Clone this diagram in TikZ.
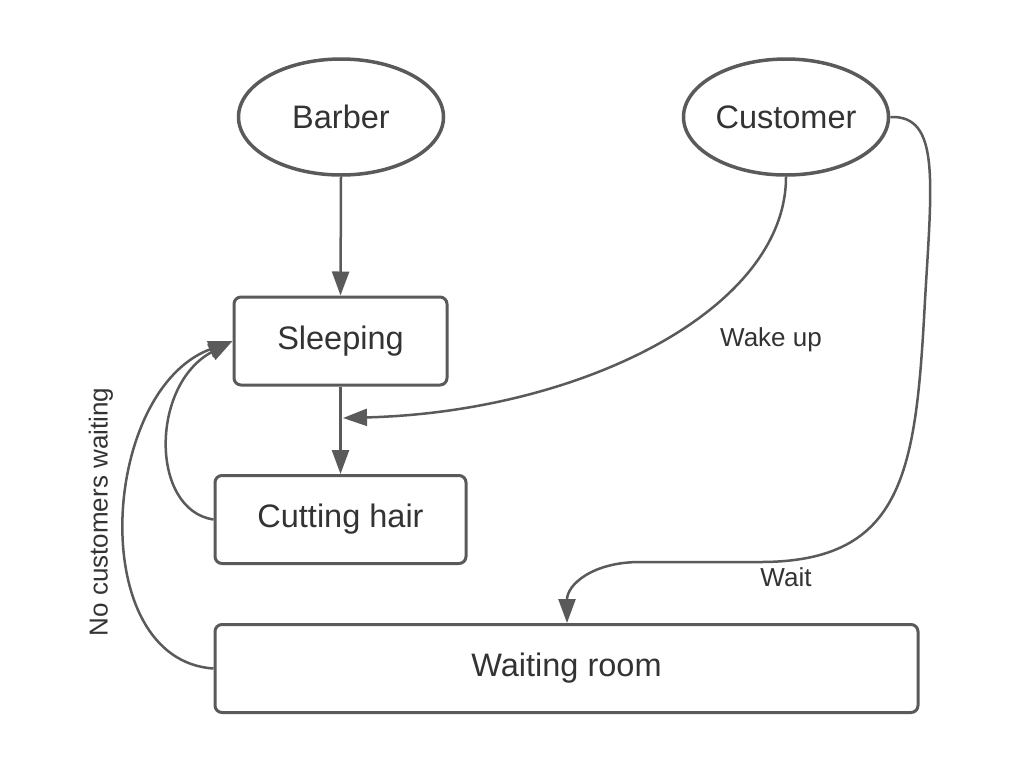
\documentclass[tikz,border=0pt]{standalone}
\usepackage{fontspec}
\setmainfont{Liberation Sans}
\usetikzlibrary{shapes.geometric,arrows.meta}
\definecolor{linec}{HTML}{5A5A5A}
\definecolor{textc}{HTML}{333333}
\begin{document}
\begin{tikzpicture}[x=1pt,y=-1pt,
  every node/.style={text=textc},
  state/.style={draw=linec,line width=3.5pt,ellipse,minimum width=205pt,minimum height=116pt,inner sep=0pt,font=\fontsize{32.5}{38}\selectfont},
  box/.style={draw=linec,line width=3pt,rectangle,rounded corners=7pt,minimum height=88pt,inner sep=0pt,font=\fontsize{32.5}{38}\selectfont},
  conn/.style={draw=linec,line width=2.5pt},
  arr/.style={conn,-{Triangle[length=24pt,width=17pt]}},
  lbl/.style={font=\fontsize{26}{30}\selectfont,inner sep=0pt}]
\useasboundingbox (0,0) rectangle (1024,772);
\fill[white] (0,0) rectangle (1024,772);
\node[state] (barber) at (341,117) {Barber};
\node[state] (customer) at (786,117) {Customer};
\node[box,minimum width=213pt] (sleep) at (340.5,341) {Sleeping};
\node[box,minimum width=251pt] (cut) at (340.5,519.5) {Cutting hair};
\node[box,minimum width=703pt] (wait) at (566.5,668.5) {Waiting room};
\coordinate (wk) at (343,418);
\draw[arr] (barber.south) -- (sleep.north);
\draw[arr] (sleep.south) -- (cut.north);
\draw[arr] (customer.south) .. controls (786,310) and (580,412) .. (wk);
\draw[arr] (customer.east) .. controls (940,115) and (932,180) .. (925,300)
  .. controls (916,470) and (905,562) .. (760,562) -- (640,562)
  .. controls (592,562) and (567,585) .. (wait.north -| 567,0);
\draw[arr] (cut.west) .. controls (150,510) and (150,385) .. (sleep.west);
\draw[arr] (wait.west) .. controls (85,660) and (100,390) .. (sleep.west);
\node[lbl] (lwake) at (771,340) {Wake up};
\node[lbl] (lwait) at (786,577) {Wait};
\node[lbl,rotate=90] (lno) at (101,512) {No customers waiting};
\end{tikzpicture}
\end{document}
